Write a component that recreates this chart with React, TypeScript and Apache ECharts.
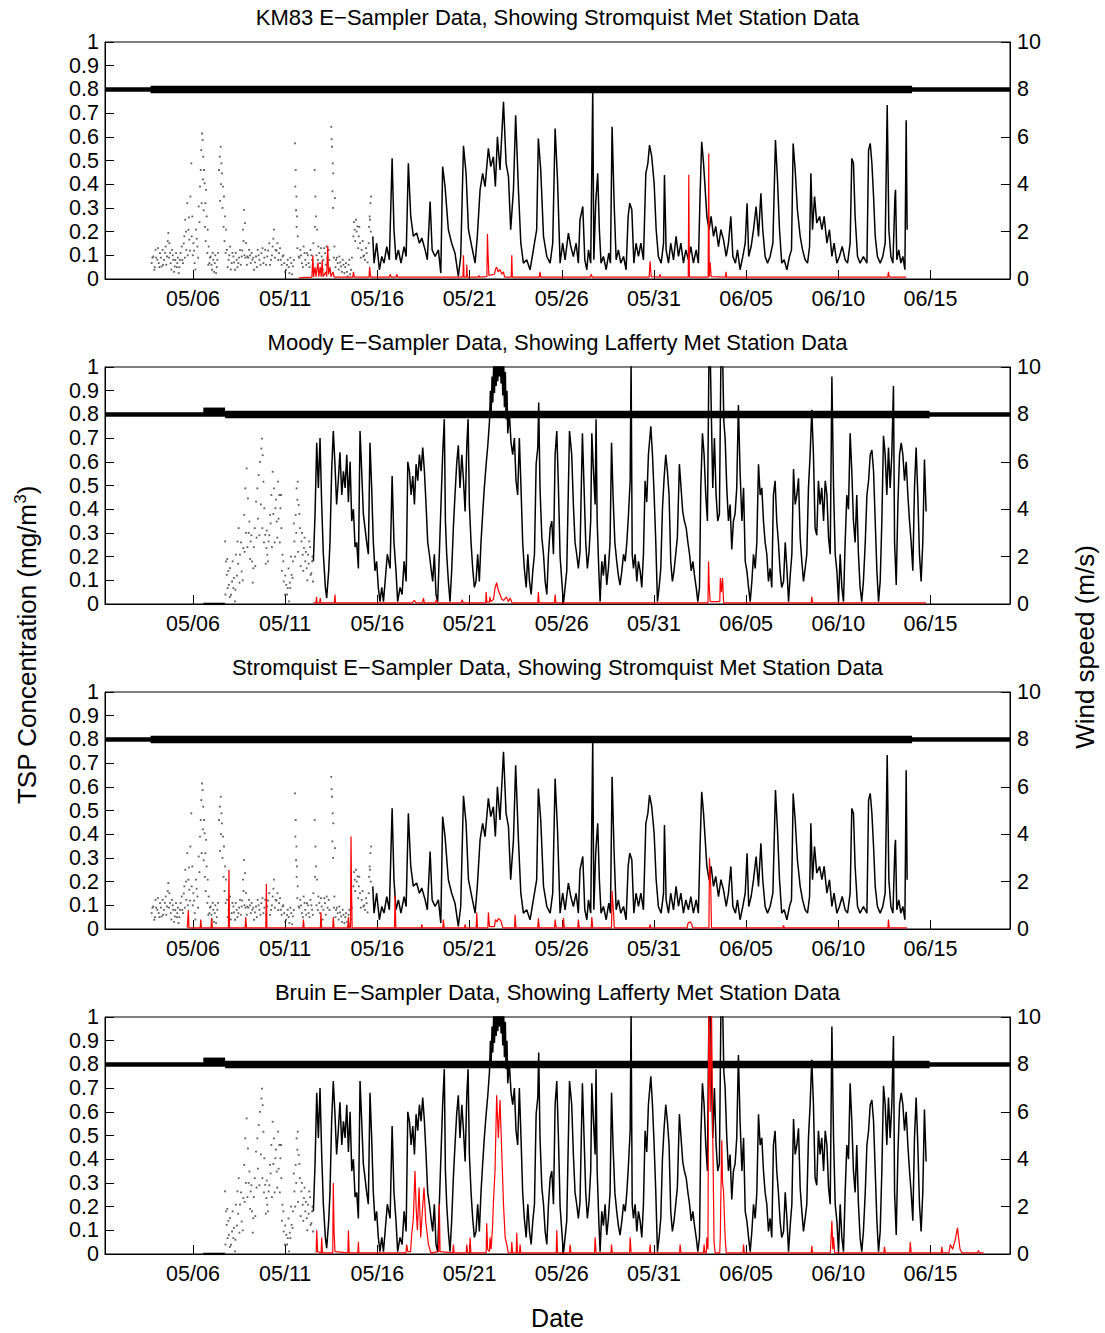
import React, { useEffect, useRef } from "react";
import * as echarts from "echarts";

// x values are days since May 1 (day 5 = 05/06)
const X_MIN = 0.228;
const X_MAX = 49.31;
const TICK_DAYS = [5, 10, 15, 20, 25, 30, 35, 40, 45];
const TICK_LABELS = ["05/06", "05/11", "05/16", "05/21", "05/26", "05/31", "06/05", "06/10", "06/15"];
const TITLES = [
  "KM83 E\u2212Sampler Data, Showing Stromquist Met Station Data",
  "Moody E\u2212Sampler Data, Showing Lafferty Met Station Data",
  "Stromquist E\u2212Sampler Data, Showing Stromquist Met Station Data",
  "Bruin E\u2212Sampler Data, Showing Lafferty Met Station Data",
];
const STATUS_LEVEL = 0.8;
const BAND_STROM = [2.7, 44.0];
const BAND_LAFF = [6.74, 44.95];
const BAND_LAFF_RAISED = [5.56, 6.74];
const RAISED_LEVEL = 0.812;
const LAFF_ZERO: [number, number][] = [[5.56, 0], [6.74, 0]];

// Stromquist met station wind speed (m/s)
const WIND_STROM: [number, number][] = [
  [14.75,1.8],[14.82,0.67],[14.96,1.51],[15.11,0.39],[15.24,0.95],[15.36,0.67],[15.51,1.37],[15.65,0.81],[15.80,5.09],[15.90,2.08],[16.01,0.81],[16.14,1.23],[16.28,0.67],[16.45,1.37],[16.56,0.95],[16.68,4.88],[16.81,2.64],[16.95,1.80],[17.13,1.94],[17.28,1.51],[17.41,1.73],[17.59,1.23],[17.71,0.81],[17.86,3.27],[17.97,1.23],[18.13,0.95],[18.31,1.23],[18.44,0.25],[18.54,4.74],[18.67,3.90],[18.85,2.08],[19.03,1.51],[19.21,1.09],[19.39,0.11],[19.52,0.95],[19.67,5.62],[19.81,4.46],[19.94,2.08],[20.12,1.37],[20.30,0.67],[20.42,1.80],[20.57,3.76],[20.71,4.46],[20.84,3.90],[21.02,5.51],[21.15,4.74],[21.29,5.16],[21.40,3.9],[21.51,6.0],[21.65,4.6],[21.84,7.48],[21.98,4.88],[22.11,4.32],[22.23,2.08],[22.38,3.76],[22.50,6.91],[22.65,3.76],[22.78,1.51],[22.92,0.67],[23.10,0.81],[23.28,0.39],[23.46,1.23],[23.64,2.08],[23.73,5.93],[23.86,4.6],[24.01,1.80],[24.19,0.95],[24.37,0.67],[24.51,1.51],[24.64,6.35],[24.77,4.18],[24.91,0.67],
  [25.05,1.51],[25.18,0.81],[25.36,1.94],[25.49,1.37],[25.63,0.95],[25.78,1.51],[25.90,0.67],[25.99,2.50],[26.14,3.06],[26.25,0.81],[26.36,0.39],[26.45,1.23],[26.57,0.67],[26.68,7.97],[26.74,0.81],[26.84,3.20],[26.95,4.46],[27.04,2.08],[27.13,0.67],[27.26,0.95],[27.41,0.39],[27.55,1.09],[27.64,0.67],[27.73,6.42],[27.84,3.20],[27.95,0.81],[28.07,1.23],[28.20,0.67],[28.35,0.95],[28.49,0.39],[28.60,2.64],[28.69,3.20],[28.80,2.92],[28.91,0.67],[29.03,1.51],[29.16,0.95],[29.29,1.51],[29.43,0.81],[29.56,4.46],[29.67,4.88],[29.76,5.65],[29.88,5.16],[30.01,4.04],[30.12,2.08],[30.24,0.95],[30.39,0.67],[30.52,1.51],[30.57,4.39],[30.66,1.23],[30.79,0.67],[30.91,1.51],[31.06,0.81],[31.20,1.80],[31.33,0.95],[31.46,1.51],[31.60,0.67],[31.73,1.23],[31.87,0.81],[32.00,1.37],[32.14,0.67],[32.29,1.23],[32.41,0.67],[32.50,3.48],[32.59,5.79],[32.69,4.88],[32.78,3.76],[32.87,2.64],[32.99,2.08],[33.10,2.64],[33.23,1.80],[33.35,2.22],[33.50,1.37],[33.63,2.08],[33.77,1.66],[33.92,0.95],[34.04,1.51],[34.17,2.64],[34.28,0.95],[34.42,0.67],[34.53,1.23],[34.67,0.39],[34.82,0.95],[34.95,1.51],[35.05,3.20],[35.14,0.95],[35.27,1.37],[35.40,2.08],[35.54,3.06],[35.67,1.80],[35.80,3.62],[35.90,2.08],[36.03,0.95],[36.16,0.67],[36.30,0.95],[36.45,1.51],[36.59,5.86],[36.70,4.18],[36.81,2.08],[36.93,0.67],[37.06,0.81],[37.21,0.39],[37.35,0.95],[37.46,1.23],[37.55,5.72],[37.66,4.60],[37.78,2.92],[37.93,1.80],[38.06,1.23],[38.20,0.81],[38.33,0.67],[38.44,1.37],[38.51,4.46],[38.60,2.08],[38.71,3.48],[38.83,2.36],[38.98,2.64],[39.11,2.08],[39.23,2.64],[39.38,1.51],[39.52,2.08],[39.65,0.95],[39.77,1.51],[39.92,0.67],[40.06,0.95],[40.21,1.37],[40.37,0.81],[40.50,0.67],[40.64,1.51],[40.73,5.09],[40.82,4.88],[40.91,2.64],[41.04,0.95],[41.18,0.67],[41.36,0.95],[41.55,0.67],[41.64,5.44],[41.73,5.72],[41.82,4.88],[41.91,3.48],[42.00,1.80],[42.12,0.95],[42.27,0.67],[42.41,0.95],[42.54,1.51],[42.65,7.34],[42.74,2.08],[42.85,0.95],[42.96,0.67],[43.07,3.48],[43.10,3.76],[43.17,0.81],[43.28,1.23],[43.39,0.67],[43.50,0.95],[43.61,0.39],[43.68,6.70],[43.73,2.08],
];

// Stromquist early wind, scattered samples (m/s)
const DOTS_STROM: [number, number][] = [
  [2.76,0.67],[2.85,0.95],[2.90,0.39],[2.97,1.23],[3.07,0.81],[3.14,0.67],[3.21,1.09],[3.30,0.53],[3.35,1.23],[3.43,0.81],[3.52,1.37],[3.59,0.95],[3.66,1.94],[3.72,1.51],[3.79,0.67],[3.86,1.23],[3.93,0.81],[4.01,0.53],[4.08,1.09],[4.15,0.67],[4.22,0.25],[4.29,0.81],
  [4.39,1.37],[4.46,0.67],[4.53,1.80],[4.58,2.50],[4.64,1.23],[4.69,3.20],[4.75,2.08],[4.80,1.66],[4.86,3.48],[4.91,4.88],[4.96,2.64],[5.02,1.51],[5.09,0.67],[5.16,2.08],[5.24,1.37],[5.31,3.06],[5.38,3.90],
  [5.42,4.60],[5.45,5.44],[5.49,6.14],[5.52,5.86],[5.56,5.16],[5.60,4.60],[5.63,4.04],[5.67,3.20],[5.71,3.76],[5.74,2.64],[5.80,2.08],[5.85,1.37],[5.89,0.67],
  [5.96,0.95],[6.03,0.39],[6.10,0.81],[6.18,0.67],[6.25,0.25],[6.32,0.81],
  [6.41,4.60],[6.45,5.16],[6.50,5.58],[6.54,4.88],[6.57,4.46],[6.63,3.90],[6.68,3.48],[6.74,2.64],[6.79,2.08],[6.84,1.23],
  [6.93,0.81],[7.01,1.37],[7.10,0.67],[7.19,0.95],[7.28,0.39],[7.37,0.81],[7.46,0.67],[7.55,1.23],[7.64,0.95],[7.71,2.08],[7.77,2.92],[7.82,2.36],[7.88,1.51],
  [7.95,0.95],[8.04,1.23],[8.13,0.67],[8.22,0.81],[8.31,0.39],[8.42,0.95],[8.51,1.23],[8.60,0.81],[8.71,1.09],[8.82,0.67],[8.92,1.23],[9.03,0.95],[9.14,1.51],[9.23,0.81],[9.32,1.37],[9.39,2.08],[9.48,1.23],[9.58,1.51],[9.67,1.09],[9.76,0.81],[9.86,0.95],[9.95,0.67],[10.05,0.39],[10.14,0.81],[10.23,0.25],[10.33,0.67],[10.42,0.53],
  [10.53,5.72],[10.57,4.60],[10.61,3.48],[10.64,2.64],[10.68,1.80],[10.73,0.95],
  [10.82,1.23],[10.91,0.67],[11.00,1.37],[11.09,0.81],[11.18,1.09],[11.27,0.67],[11.37,1.23],[11.46,0.81],[11.53,1.51],
  [11.60,4.60],[11.64,3.48],[11.67,2.64],[11.73,2.08],[11.80,1.37],[11.89,0.67],[11.98,0.95],[12.07,0.81],[12.16,1.09],[12.25,1.37],[12.36,1.23],
  [12.50,6.42],[12.54,5.58],[12.58,4.88],[12.61,4.46],
  [12.67,1.37],[12.70,3.41],[12.76,0.81],[12.85,0.67],[12.94,0.95],[13.03,0.53],[13.12,0.81],[13.21,0.25],[13.30,0.67],[13.39,0.11],[13.48,0.81],[13.57,0.39],
  [13.70,1.80],[13.77,2.08],[13.84,2.50],[13.92,2.22],[13.99,1.80],[14.06,1.51],[14.15,1.23],[14.24,0.95],[14.33,0.81],[14.42,1.09],[14.53,1.51],[14.58,2.64],[14.62,3.20],[14.66,3.48],
  [2.8,0.9],[2.93,0.5],[3.0,0.9],[3.1,1.3],[3.18,0.5],[3.26,0.9],[3.38,0.6],[3.48,1.1],[3.55,0.6],[3.63,1.6],[3.7,0.9],[3.76,1.1],[3.83,0.4],[3.9,1.0],[3.97,0.3],[4.04,0.8],[4.12,0.5],[4.18,0.9],[4.26,0.5],[4.33,1.1],[4.42,0.8],[4.5,1.5],[4.56,0.9],[4.62,2.0],[4.72,1.0],[4.78,2.6],[4.84,1.2],[4.93,1.8],[4.99,1.0],[5.06,1.2],[5.13,0.4],[5.2,1.7],[5.28,0.9],[5.35,2.4],[5.47,3.2],[5.54,4.2],[5.58,2.9],[5.65,2.2],[5.69,1.6],[5.78,1.1],[5.83,0.6],[5.92,0.9],[6.0,0.6],[6.07,1.1],[6.14,0.3],[6.21,1.0],[6.29,0.5],[6.36,1.1],[6.47,3.3],[6.52,4.0],[6.6,3.0],[6.66,2.2],[6.71,1.6],[6.77,1.1],[6.88,0.5],[6.97,1.0],[7.05,0.4],[7.14,1.1],[7.23,0.7],[7.32,1.1],[7.41,0.5],[7.5,0.9],[7.59,0.6],[7.67,1.2],[7.74,1.6],[7.79,1.0],[7.85,0.9],[7.92,0.6],[8.0,0.9],[8.09,1.0],[8.18,1.1],[8.27,0.9],[8.36,0.7],[8.46,0.5],[8.56,1.0],[8.66,0.6],[8.77,1.3],[8.87,0.9],[8.97,0.6],[9.08,1.2],[9.18,0.6],[9.28,1.0],[9.36,1.7],[9.44,0.9],[9.53,1.2],[9.62,0.8],[9.72,1.3],[9.81,0.6],[9.9,1.0],[10.0,0.3],[10.1,0.6],[10.19,0.5],[10.28,0.9],[10.38,0.2],[10.47,0.8],[10.55,3.9],[10.59,2.9],[10.62,2.2],[10.66,1.3],[10.77,0.9],[10.86,1.0],[10.96,0.5],[11.05,1.1],[11.14,0.6],[11.23,1.0],[11.32,0.5],[11.42,1.0],[11.5,0.6],[11.62,2.2],[11.7,1.0],[11.77,0.8],[11.85,1.1],[11.94,1.3],[12.03,0.4],[12.12,1.3],[12.2,0.6],[12.3,0.9],[12.4,0.8],[12.52,5.9],[12.56,3.7],[12.6,3.0],[12.64,0.9],[12.73,0.5],[12.8,0.9],[12.9,0.4],[12.98,0.7],[13.08,0.3],[13.16,0.6],[13.26,0.5],[13.35,0.3],[13.44,0.6],[13.52,0.2],[13.62,0.9],[13.73,2.4],[13.8,1.6],[13.88,2.0],[13.96,1.3],[14.02,2.2],[14.1,0.9],[14.2,1.6],[14.28,1.0],[14.38,1.3],[14.47,0.7],[14.55,2.2],[14.6,2.5],[14.64,2.0],
];

// Lafferty met station wind speed (m/s)
const WIND_LAFF: [number, number][] = [
  [11.53,1.8],[11.62,3.8],[11.71,6.8],[11.80,4.9],[11.89,7.0],[11.98,4.2],[12.07,2.1],[12.18,0.7],[12.25,0.25],[12.36,1.4],[12.43,2.6],[12.52,5.6],[12.61,7.3],[12.70,5.9],[12.79,4.2],[12.88,5.2],[12.97,6.4],[13.07,4.6],[13.16,5.6],[13.25,4.9],[13.34,6.3],[13.43,4.3],[13.52,6.0],[13.61,3.5],[13.70,4.0],[13.79,2.4],[13.88,2.6],[13.97,1.5],[14.06,7.3],[14.15,5.6],[14.24,3.8],[14.33,3.2],[14.42,2.6],[14.51,2.1],[14.60,6.8],[14.69,4.9],[14.78,2.6],[14.87,1.4],[14.96,1.8],[15.05,0.7],[15.14,0.1],[15.24,0.7],[15.33,0.1],[15.42,0.95],[15.54,2.1],[15.69,1.5],[15.80,5.4],[15.90,2.6],[16.01,1.4],[16.10,0.1],[16.23,0.7],[16.34,0.4],[16.45,1.8],[16.56,0.95],[16.65,6.0],[16.74,5.6],[16.83,4.6],[16.92,5.4],[17.01,4.2],[17.10,5.9],[17.19,5.2],[17.28,6.3],[17.37,5.6],[17.46,6.6],[17.55,5.6],[17.64,4.2],[17.73,2.6],[17.82,2.1],[17.91,1.5],[18.00,0.95],[18.09,2.1],[18.18,0.4],[18.27,0.1],[18.36,2.1],[18.45,4.2],[18.54,6.3],[18.63,7.8],[18.69,3.5],[18.76,2.1],[18.85,0.95],[18.94,0.1],[19.03,1.4],[19.12,3.2],[19.21,4.6],[19.30,5.9],[19.39,6.7],[19.48,4.9],[19.58,6.3],[19.67,5.2],[19.76,3.9],[19.85,6.7],[19.92,7.8],[19.99,4.2],[20.08,2.6],[20.17,1.5],[20.26,0.7],[20.35,0.95],[20.44,2.1],[20.53,0.95],[20.62,2.6],[20.71,3.8],[20.80,4.9],[20.90,5.9],[20.99,6.7],[21.08,7.7],[21.13,9.0],[21.17,8.0],[21.22,9.6],[21.26,8.5],[21.31,10.2],[21.35,8.9],[21.40,10.3],[21.44,9.2],[21.49,10.3],[21.53,9.4],[21.58,10.3],[21.62,9.6],[21.67,10.3],[21.71,9.3],[21.76,10.3],[21.80,8.8],[21.85,10.2],[21.89,8.3],[21.94,9.8],[21.98,7.8],[22.03,9.0],[22.07,7.2],[22.16,8.0],[22.25,6.8],[22.34,6.3],[22.43,7.0],[22.52,5.2],[22.61,4.6],[22.70,7.0],[22.79,4.9],[22.88,2.6],[22.97,1.5],[23.07,0.7],[23.16,2.1],[23.25,0.95],[23.34,0.4],[23.43,1.4],[23.52,2.1],[23.61,5.9],[23.70,6.6],[23.75,8.5],[23.82,4.9],[23.92,2.8],[24.01,2.1],[24.10,0.95],[24.19,0.4],[24.28,2.1],[24.37,3.2],[24.46,3.5],[24.55,2.1],[24.64,6.3],[24.73,7.3],[24.82,4.9],[24.91,2.0],
  [25.09,0.0],[25.27,1.4],[25.42,7.3],[25.54,6.3],[25.63,4.2],[25.72,2.6],[25.81,2.1],[25.90,1.5],[25.99,2.2],[26.12,7.2],[26.21,4.9],[26.30,2.6],[26.39,1.5],[26.48,2.2],[26.57,3.5],[26.63,7.2],[26.72,5.6],[26.81,4.2],[26.86,7.8],[26.92,3.5],[27.01,1.4],[27.08,0.1],[27.17,1.8],[27.26,1.2],[27.35,2.1],[27.44,0.8],[27.53,1.5],[27.62,2.6],[27.70,6.8],[27.78,4.6],[27.88,2.6],[27.98,1.8],[28.07,1.2],[28.16,0.8],[28.26,1.4],[28.35,2.1],[28.44,1.8],[28.53,2.6],[28.62,3.8],[28.71,5.2],[28.76,10.2],[28.82,2.1],[28.89,1.5],[28.98,2.1],[29.07,0.95],[29.16,1.8],[29.25,1.4],[29.34,0.7],[29.43,2.1],[29.52,5.2],[29.61,4.3],[29.70,6.3],[29.83,7.5],[29.92,6.3],[30.01,4.6],[30.10,2.6],[30.19,0.1],[30.28,0.7],[30.37,1.5],[30.46,4.0],[30.55,5.3],[30.64,6.3],[30.73,5.6],[30.82,4.6],[30.91,1.8],[31.00,0.95],[31.09,1.4],[31.18,2.1],[31.27,2.8],[31.38,5.9],[31.47,4.9],[31.56,3.9],[31.65,3.5],[31.75,3.2],[31.84,2.6],[31.93,2.1],[32.02,1.4],[32.11,1.8],[32.20,1.2],[32.29,0.7],[32.38,0.1],[32.47,0.7],[32.54,4.9],[32.63,7.2],[32.72,6.3],[32.81,4.6],[32.90,3.5],[32.98,10.2],[33.06,10.2],[33.12,7.7],[33.19,4.9],[33.28,7.0],[33.37,4.6],[33.46,3.5],[33.55,3.8],[33.63,10.2],[33.73,10.2],[33.79,7.7],[33.86,7.0],[33.95,4.9],[34.04,3.5],[34.13,4.2],[34.22,2.3],[34.31,3.5],[34.40,3.8],[34.49,4.9],[34.58,8.4],[34.67,5.6],[34.77,3.5],[34.86,4.9],[34.95,1.8],[35.04,1.4],[35.13,0.7],[35.22,0.1],[35.31,0.95],[35.40,2.1],[35.49,1.5],[35.58,2.6],[35.67,5.9],[35.76,4.6],[35.85,4.9],[35.94,3.5],[36.03,2.6],[36.12,2.1],[36.21,0.95],[36.30,1.5],[36.39,0.7],[36.48,4.6],[36.57,5.2],[36.66,3.5],[36.75,2.6],[36.84,1.4],[36.93,0.7],[37.03,0.95],[37.12,2.6],[37.21,1.5],[37.30,0.1],[37.39,1.2],[37.48,2.1],[37.57,5.7],[37.66,4.2],[37.75,4.6],[37.84,5.3],[37.93,2.8],[38.02,1.8],[38.11,0.95],[38.20,1.5],[38.29,2.1],[38.38,4.9],[38.47,6.3],[38.56,8.2],[38.65,6.3],[38.74,3.2],[38.83,2.9],[38.92,5.2],[39.01,4.2],[39.10,4.9],[39.20,3.5],[39.29,5.2],[39.38,4.6],[39.47,2.8],[39.56,2.1],[39.65,9.6],[39.74,4.9],[39.83,2.1],[39.92,1.4],[40.01,0.1],[40.10,2.1],[40.19,0.7],[40.28,0.1],[40.37,2.6],[40.46,4.6],[40.55,4.0],[40.64,7.2],[40.73,5.6],[40.82,3.5],[40.91,2.6],[41.00,4.6],[41.09,2.1],[41.18,0.7],[41.27,0.1],[41.36,0.95],[41.46,2.6],[41.55,4.6],[41.64,5.2],[41.73,6.3],[41.82,6.5],[41.91,5.6],[42.00,3.5],[42.09,1.4],[42.18,0.1],[42.27,0.95],[42.36,3.5],[42.45,7.1],[42.54,6.3],[42.63,4.6],[42.72,6.6],[42.81,4.9],[42.90,6.3],[42.99,9.2],[43.05,2.6],[43.14,0.8],[43.23,4.2],[43.32,6.3],[43.41,6.8],[43.50,6.3],[43.59,5.2],[43.68,6.0],[43.77,4.6],[43.86,3.5],[43.95,2.6],[44.04,1.4],[44.13,4.9],[44.22,6.6],[44.31,4.6],[44.40,2.1],[44.49,0.95],[44.58,2.6],[44.67,6.1],[44.76,3.9],
];

// Lafferty early wind, scattered samples (m/s)
const DOTS_LAFF: [number, number][] = [
  [6.74,2.64],[6.79,1.80],[6.83,1.23],[6.88,0.67],[6.95,0.81],[7.01,1.51],[7.06,0.39],[7.12,0.95],[7.19,0.67],[7.28,0.11],[7.33,2.08],[7.41,2.64],[7.48,3.20],[7.55,2.08],[7.64,1.37],[7.73,2.36],[7.78,3.76],[7.84,4.88],[7.91,5.72],[7.98,4.46],[8.06,3.48],[8.13,2.64],[8.20,1.80],[8.27,1.51],[8.35,3.20],[8.42,4.32],[8.49,4.88],[8.56,5.44],[8.63,6.0],[8.71,6.56],[8.74,6.98],[8.78,6.28],[8.82,5.16],[8.87,4.04],[8.92,2.92],[8.98,2.36],[9.03,2.08],[9.10,2.64],[9.18,3.76],[9.25,4.60],[9.32,5.58],[9.39,4.88],[9.47,4.04],[9.54,3.48],[9.61,5.16],[9.68,4.60],[9.74,4.04],[9.79,3.20],[9.85,2.08],[9.92,0.95],[9.99,0.39],[10.06,0.81],[10.14,0.67],[10.21,0.11],[10.28,0.67],[10.35,1.23],[10.42,1.80],[10.50,2.64],[10.57,3.76],[10.62,4.88],[10.68,5.16],[10.73,4.18],[10.80,3.20],[10.88,2.64],[10.95,2.08],[11.02,2.36],[11.09,1.80],[11.17,1.51],[11.24,2.08],[11.31,2.64],[11.38,1.23],[11.46,1.80],[11.51,0.95],
  [6.76,0.4],[6.86,1.9],[6.92,1.4],[7.0,0.3],[7.15,1.8],[7.22,1.1],[7.3,0.6],[7.38,1.2],[7.45,1.7],[7.52,0.9],[7.6,2.6],[7.7,1.0],[7.8,2.2],[7.87,3.0],[7.95,2.4],[8.02,3.0],[8.1,1.9],[8.17,2.9],[8.24,0.9],[8.3,2.4],[8.38,1.6],[8.45,2.8],[8.52,3.6],[8.6,2.9],[8.68,4.2],[8.76,3.2],[8.85,2.6],[8.95,1.7],[9.0,3.1],[9.07,1.8],[9.14,2.9],[9.21,3.4],[9.28,2.4],[9.36,3.8],[9.43,2.6],[9.5,4.4],[9.57,2.8],[9.64,3.6],[9.71,2.6],[9.77,4.6],[9.82,1.4],[9.9,1.8],[10.0,1.2],[10.1,0.4],[10.18,1.5],[10.25,0.9],[10.32,2.0],[10.4,1.1],[10.47,3.4],[10.54,2.0],[10.6,3.0],[10.66,4.4],[10.7,2.2],[10.77,3.8],[10.84,1.6],[10.91,3.0],[10.98,1.4],[11.05,2.8],[11.12,2.2],[11.2,1.0],[11.27,1.7],[11.35,2.4],[11.42,1.3],[11.48,2.0],
];

// TSP concentrations (mg/m3)
const RED_KM83: [number, number][] = [
  [10.75,0.005],[11.45,0.008],[11.5,0.10],[11.54,0.008],[11.62,0.05],[11.67,0.01],[11.78,0.07],[11.82,0.01],[11.9,0.05],[11.95,0.01],[12.01,0.08],[12.05,0.01],[12.2,0.03],[12.25,0.01],[12.28,0.09],[12.31,0.14],[12.35,0.02],[12.43,0.05],[12.48,0.01],[12.6,0.03],[12.65,0.008],[13.67,0.008],[13.7,0.03],[13.75,0.008],[14.55,0.008],[14.58,0.05],[14.63,0.008],[15.66,0.008],[15.69,0.02],[15.75,0.008],[16.02,0.008],[16.05,0.02],[16.1,0.008],[19.64,0.008],[19.67,0.10],[19.7,0.008],[19.83,0.008],[19.85,0.06],[19.88,0.008],[20.47,0.008],[20.5,0.015],[20.55,0.008],[20.94,0.01],[20.97,0.19],[21.0,0.11],[21.05,0.015],[21.35,0.02],[21.4,0.04],[21.47,0.05],[21.55,0.03],[21.65,0.04],[21.75,0.02],[21.84,0.03],[21.9,0.008],[22.26,0.008],[22.29,0.10],[22.32,0.008],[23.78,0.008],[23.82,0.03],[23.86,0.008],[26.55,0.008],[26.6,0.02],[26.65,0.008],[29.74,0.008],[29.79,0.075],[29.85,0.01],[30.3,0.008],[30.33,0.02],[30.37,0.008],[31.86,0.008],[31.89,0.44],[31.92,0.008],[32.94,0.008],[32.97,0.53],[33.0,0.01],[33.05,0.07],[33.1,0.01],[33.88,0.008],[33.91,0.03],[33.94,0.008],[42.68,0.008],[42.72,0.03],[42.76,0.008],[43.68,0.008],
];
const RED_MOODY: [number, number][] = [
  [11.53,0.005],[11.67,0.005],[11.7,0.03],[11.73,0.005],[11.87,0.005],[11.9,0.025],[11.93,0.005],[12.67,0.005],[12.7,0.04],[12.73,0.005],[16.9,0.005],[17.0,0.015],[17.1,0.005],[17.45,0.005],[17.5,0.025],[17.55,0.005],[18.15,0.005],[18.2,0.018],[18.25,0.005],[19.55,0.005],[19.6,0.018],[19.65,0.005],[20.87,0.005],[20.9,0.05],[20.94,0.008],[21.08,0.008],[21.1,0.03],[21.15,0.01],[21.3,0.02],[21.38,0.067],[21.47,0.09],[21.55,0.06],[21.65,0.04],[21.75,0.02],[21.85,0.015],[22.0,0.03],[22.1,0.01],[22.2,0.025],[22.3,0.005],[23.7,0.005],[23.73,0.05],[23.77,0.005],[24.61,0.005],[24.64,0.04],[24.68,0.005],[32.93,0.005],[32.96,0.18],[33.0,0.07],[33.05,0.01],[33.57,0.01],[33.6,0.11],[33.66,0.05],[33.72,0.11],[33.78,0.005],[38.53,0.005],[38.56,0.03],[38.6,0.005],[44.76,0.005],
];
const RED_STROM: [number, number][] = [
  [4.69,0.005],[4.72,0.005],[4.75,0.08],[4.78,0.005],[5.39,0.005],[5.42,0.04],[5.46,0.005],[5.98,0.005],[6.01,0.046],[6.05,0.005],[6.92,0.005],[6.95,0.25],[6.98,0.005],[7.83,0.005],[7.86,0.05],[7.9,0.005],[8.95,0.005],[8.98,0.19],[9.01,0.005],[10.96,0.005],[10.99,0.04],[11.03,0.005],[11.91,0.005],[11.94,0.07],[11.98,0.005],[12.58,0.005],[12.61,0.05],[12.65,0.005],[13.4,0.005],[13.43,0.05],[13.47,0.005],[13.54,0.005],[13.57,0.39],[13.6,0.17],[13.63,0.005],[15.93,0.005],[15.96,0.14],[16.0,0.005],[17.38,0.005],[17.41,0.02],[17.45,0.005],[18.55,0.005],[18.58,0.04],[18.62,0.005],[19.73,0.005],[19.76,0.02],[19.8,0.005],[20.36,0.005],[20.39,0.07],[20.43,0.005],[20.99,0.005],[21.02,0.07],[21.08,0.01],[21.35,0.01],[21.4,0.04],[21.5,0.03],[21.56,0.045],[21.7,0.035],[21.8,0.005],[22.44,0.005],[22.47,0.06],[22.52,0.005],[23.7,0.005],[23.73,0.045],[23.78,0.005],[24.61,0.005],[24.64,0.04],[24.7,0.005],[25.06,0.005],[25.09,0.046],[25.14,0.005],[25.87,0.005],[25.9,0.04],[25.95,0.005],[26.6,0.005],[26.63,0.05],[26.68,0.005],[27.7,0.005],[27.73,0.16],[27.8,0.08],[27.85,0.005],[29.75,0.005],[29.79,0.02],[29.83,0.005],[31.8,0.005],[31.85,0.025],[31.96,0.03],[32.05,0.02],[32.1,0.005],[32.98,0.005],[33.01,0.30],[33.08,0.18],[33.12,0.005],[36.99,0.005],[37.03,0.015],[37.07,0.005],[42.69,0.005],[42.72,0.04],[42.76,0.005],[43.72,0.005],
];
const RED_BRUIN: [number, number][] = [
  [11.68,0.005],[11.71,0.1],[11.76,0.01],[11.95,0.005],[11.98,0.07],[12.02,0.005],[12.58,0.005],[12.61,0.30],[12.65,0.1],[12.7,0.01],[13.4,0.005],[13.43,0.1],[13.47,0.005],[13.94,0.005],[13.97,0.05],[14.0,0.005],[16.55,0.005],[16.59,0.04],[16.65,0.01],[16.8,0.01],[16.86,0.08],[16.95,0.15],[17.04,0.35],[17.1,0.2],[17.17,0.1],[17.26,0.28],[17.35,0.07],[17.44,0.18],[17.53,0.28],[17.62,0.14],[17.77,0.04],[17.9,0.005],[18.32,0.01],[18.36,0.21],[18.4,0.01],[19.09,0.005],[19.12,0.04],[19.16,0.005],[19.82,0.005],[19.85,0.04],[19.9,0.005],[20.0,0.005],[20.03,0.07],[20.07,0.005],[20.9,0.005],[20.93,0.13],[20.98,0.02],[21.08,0.01],[21.11,0.07],[21.17,0.02],[21.25,0.12],[21.29,0.21],[21.38,0.35],[21.47,0.67],[21.56,0.49],[21.65,0.65],[21.75,0.42],[21.84,0.21],[21.93,0.07],[22.02,0.04],[22.1,0.005],[22.26,0.005],[22.29,0.05],[22.33,0.005],[22.53,0.005],[22.56,0.09],[22.6,0.005],[22.71,0.005],[22.74,0.04],[22.78,0.005],[24.7,0.005],[24.73,0.1],[24.77,0.005],[25.42,0.005],[25.45,0.04],[25.5,0.005],[26.78,0.005],[26.81,0.07],[26.86,0.005],[27.67,0.005],[27.7,0.04],[27.74,0.005],[28.68,0.005],[28.71,0.07],[28.76,0.005],[29.76,0.005],[29.79,0.04],[29.83,0.005],[31.39,0.005],[31.42,0.04],[31.46,0.005],[32.69,0.005],[32.72,0.04],[32.76,0.005],[32.84,0.005],[32.87,0.07],[32.93,0.02],[32.97,1.05],[33.05,0.6],[33.12,1.05],[33.19,0.5],[33.26,0.05],[33.32,0.005],[33.57,0.005],[33.6,0.08],[33.63,0.25],[33.68,0.48],[33.72,0.3],[33.77,0.27],[33.86,0.07],[33.92,0.005],[34.83,0.005],[34.86,0.04],[34.9,0.005],[38.53,0.005],[38.56,0.035],[38.6,0.005],[39.57,0.005],[39.6,0.06],[39.65,0.14],[39.7,0.02],[39.74,0.07],[39.8,0.005],[42.47,0.005],[42.5,0.03],[42.55,0.005],[43.87,0.005],[43.9,0.05],[43.95,0.005],[45.58,0.005],[45.61,0.03],[45.65,0.005],[46.0,0.005],[46.07,0.04],[46.2,0.02],[46.34,0.06],[46.46,0.11],[46.52,0.07],[46.6,0.02],[46.7,0.005],[47.55,0.005],[47.6,0.015],[47.65,0.005],[47.88,0.005],
];

const PANELS = [
  { title: TITLES[0], wind: WIND_STROM, dots: DOTS_STROM, red: RED_KM83, band: BAND_STROM, laff: false },
  { title: TITLES[1], wind: WIND_LAFF, dots: DOTS_LAFF, red: RED_MOODY, band: BAND_LAFF, laff: true },
  { title: TITLES[2], wind: WIND_STROM, dots: DOTS_STROM, red: RED_STROM, band: BAND_STROM, laff: false },
  { title: TITLES[3], wind: WIND_LAFF, dots: DOTS_LAFF, red: RED_BRUIN, band: BAND_LAFF, laff: true },
];

const FONT = "'Liberation Sans', Arial, Helvetica, sans-serif";
const GRID_TOPS = [42, 367, 692, 1017];
const GRID_LEFT = 105;
const GRID_WIDTH = 905;
const GRID_HEIGHT = 237;

function buildOption() {
  const grid: any[] = [];
  const xAxis: any[] = [];
  const yAxis: any[] = [];
  const series: any[] = [];
  const graphic: any[] = [];
  const labelFmt = (v: number) => {
    const i = TICK_DAYS.indexOf(Math.round(v));
    return i >= 0 ? TICK_LABELS[i] : "";
  };
  const centered = { textAlign: "center", textVerticalAlign: "middle", align: "center", verticalAlign: "middle" };
  PANELS.forEach((p, i) => {
    grid.push({
      left: GRID_LEFT, width: GRID_WIDTH, top: GRID_TOPS[i], height: GRID_HEIGHT,
      show: true, borderColor: "#000", borderWidth: 1, backgroundColor: "transparent",
    });
    xAxis.push({
      gridIndex: i, type: "value", min: X_MIN, max: X_MAX,
      axisLine: { show: true, onZero: false, lineStyle: { color: "#000", width: 1 } },
      axisTick: { show: true, inside: true, length: 9, customValues: TICK_DAYS, lineStyle: { color: "#000" } },
      axisLabel: { customValues: TICK_DAYS, formatter: labelFmt, color: "#000", fontSize: 21.5, fontFamily: FONT, margin: 9 },
      splitLine: { show: false },
    });
    yAxis.push({
      gridIndex: i, type: "value", min: 0, max: 1, interval: 0.1, position: "left",
      axisLine: { show: true, lineStyle: { color: "#000", width: 1 } },
      axisTick: { show: true, inside: true, length: 9, lineStyle: { color: "#000" } },
      axisLabel: { color: "#000", fontSize: 21.5, fontFamily: FONT, margin: 6, formatter: (v: number) => String(Math.round(v * 10) / 10) },
      splitLine: { show: false },
    });
    yAxis.push({
      gridIndex: i, type: "value", min: 0, max: 10, interval: 2, position: "right",
      axisLine: { show: true, lineStyle: { color: "#000", width: 1 } },
      axisTick: { show: true, inside: true, length: 9, lineStyle: { color: "#000" } },
      axisLabel: { color: "#000", fontSize: 21.5, fontFamily: FONT, margin: 7 },
      splitLine: { show: false },
    });
    const yl = i * 2;
    const yr = i * 2 + 1;
    series.push({
      type: "line", xAxisIndex: i, yAxisIndex: yl, symbol: "none", silent: true, z: 2,
      data: [[X_MIN, STATUS_LEVEL], [X_MAX, STATUS_LEVEL]],
      lineStyle: { color: "#000", width: 4.5 },
    });
    series.push({
      type: "line", xAxisIndex: i, yAxisIndex: yl, symbol: "none", silent: true, z: 2,
      data: [[p.band[0], STATUS_LEVEL], [p.band[1], STATUS_LEVEL]],
      lineStyle: { color: "#000", width: 7.5 },
    });
    if (p.laff) {
      series.push({
        type: "line", xAxisIndex: i, yAxisIndex: yl, symbol: "none", silent: true, z: 2,
        data: [[BAND_LAFF_RAISED[0], RAISED_LEVEL], [BAND_LAFF_RAISED[1], RAISED_LEVEL]],
        lineStyle: { color: "#000", width: 8 },
      });
      series.push({
        type: "line", xAxisIndex: i, yAxisIndex: yr, symbol: "none", silent: true, z: 3,
        data: LAFF_ZERO, lineStyle: { color: "#000", width: 2.5 },
      });
    }
    series.push({
      type: "scatter", xAxisIndex: i, yAxisIndex: yr, symbol: "rect", symbolSize: 1.8, silent: true, z: 3,
      data: p.dots, itemStyle: { color: "#333" },
    });
    series.push({
      type: "line", xAxisIndex: i, yAxisIndex: yr, symbol: "none", silent: true, z: 4,
      data: p.wind, lineStyle: { color: "#000", width: 1.5 },
    });
    series.push({
      type: "line", xAxisIndex: i, yAxisIndex: yl, symbol: "none", silent: true, z: 5,
      data: p.red, lineStyle: { color: "#ff0000", width: 1.2 },
    });
    graphic.push({
      type: "text", x: GRID_LEFT + GRID_WIDTH / 2, y: GRID_TOPS[i] - 25,
      style: { text: p.title, fontSize: 22, fontFamily: FONT, fill: "#000", ...centered },
    });
  });
  graphic.push({
    type: "text", x: 27, y: 645, rotation: Math.PI / 2,
    style: {
      text: "{a|TSP Concentration (mg/m}{s|3}{a|)}",
      fill: "#000", ...centered,
      rich: {
        a: { fontSize: 26, fontFamily: FONT, fill: "#000", lineHeight: 30 },
        s: { fontSize: 17, fontFamily: FONT, fill: "#000", verticalAlign: "top", lineHeight: 30 },
      },
    },
  });
  graphic.push({
    type: "text", x: 1085, y: 647, rotation: Math.PI / 2,
    style: { text: "Wind speed (m/s)", fontSize: 26, fontFamily: FONT, fill: "#000", ...centered },
  });
  graphic.push({
    type: "text", x: GRID_LEFT + GRID_WIDTH / 2, y: 1318,
    style: { text: "Date", fontSize: 25, fontFamily: FONT, fill: "#000", ...centered },
  });
  return {
    animation: false,
    backgroundColor: "#fff",
    grid, xAxis, yAxis, series, graphic,
  };
}

export default function App() {
  const ref = useRef<HTMLDivElement>(null);
  useEffect(() => {
    if (!ref.current) return;
    const chart = echarts.init(ref.current, undefined, { renderer: "svg" });
    chart.setOption(buildOption() as any);
    return () => chart.dispose();
  }, []);
  return <div ref={ref} style={{ position: "absolute", left: 0, top: 0, width: 1105, height: 1333 }} />;
}
